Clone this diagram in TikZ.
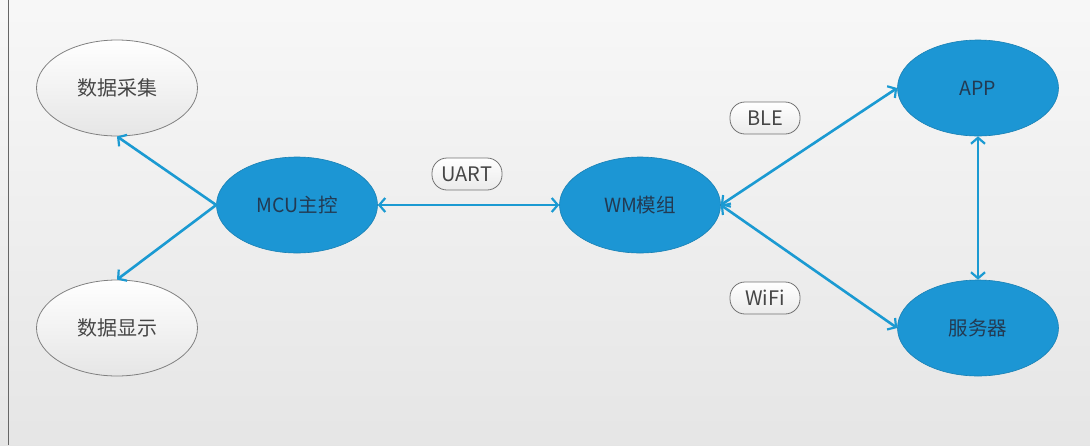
\documentclass[tikz,border=0pt]{standalone}
\usepackage{fontspec}
\setmainfont{Noto Sans CJK SC}
\usetikzlibrary{shapes.geometric,arrows.meta}
\definecolor{linkblue}{RGB}{27,154,210}
\definecolor{nodeblue}{RGB}{28,150,212}
\definecolor{navytext}{RGB}{35,58,82}
\definecolor{graytext}{RGB}{70,70,70}
\tikzset{
  bluenode/.style={ellipse, fill=nodeblue, draw=nodeblue!85!black, line width=0.6pt,
    minimum width=161pt, minimum height=96pt, inner sep=0pt,
    text=navytext, font=\fontsize{19.5}{21}\selectfont},
  graynode/.style={ellipse, top color=white, bottom color=black!10, draw=black!50, line width=0.8pt,
    minimum width=161pt, minimum height=96pt, inner sep=0pt,
    text=graytext, font=\fontsize{20}{22}\selectfont},
  tag/.style={rectangle, rounded corners=15pt, top color=white, bottom color=black!8,
    draw=black!55, line width=0.8pt, minimum width=70pt, minimum height=32pt, inner sep=0pt,
    text=graytext, font=\fontsize{20}{22}\selectfont},
  link/.style={draw=linkblue, line width=2.6pt,
    {Straight Barb[length=6pt,width=14pt,line width=2.2pt]}-{Straight Barb[length=6pt,width=14pt,line width=2.2pt]}},
  onelink/.style={draw=linkblue, line width=2.6pt,
    -{Straight Barb[length=6pt,width=14pt,line width=2.2pt]}}
}
\begin{document}
\begin{tikzpicture}[x=1pt,y=-1pt]
  \shade[top color=white!97!black, bottom color=black!10] (0,0) rectangle (1090,445);
  \useasboundingbox (0,0) rectangle (1090,445);
  \draw[black!60, line width=1pt] (8.5,0) -- (8.5,445);

  \node[graynode] (cj) at (117,88) {数据采集};
  \node[graynode] (xs) at (117,328) {数据显示};
  \node[bluenode] (mcu) at (297,205) {MCU主控};
  \node[bluenode] (wm) at (640,205) {WM模组};
  \node[bluenode] (app) at (978,88) {APP};
  \node[bluenode] (fw) at (978,328) {服务器};

  \node[tag] (uart) at (467,174) {UART};
  \node[tag] (ble) at (765,118) {BLE};
  \node[tag] (wifi) at (765,298) {WiFi};

  \draw[onelink] (mcu.west) -- (cj.south);
  \draw[onelink] (mcu.west) -- (xs.north);
  \draw[link] (mcu.east) -- (wm.west);
  \draw[link] (wm.east) -- (app.west);
  \draw[link] (wm.east) -- (fw.west);
  \draw[link] (app.south) -- (fw.north);
\end{tikzpicture}
\end{document}
